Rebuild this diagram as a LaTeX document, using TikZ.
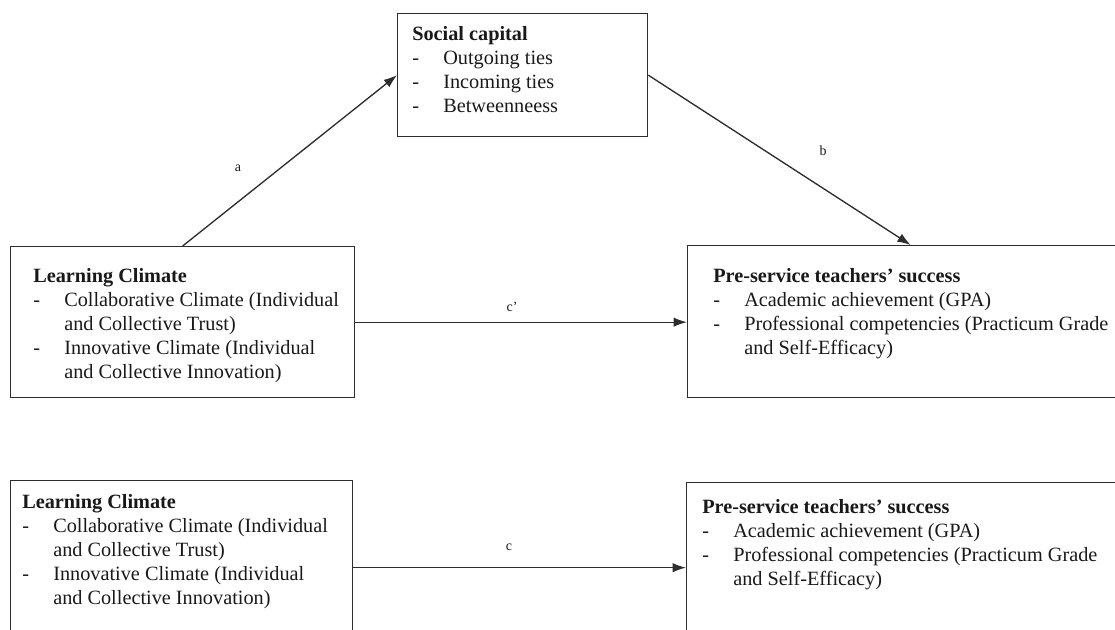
\documentclass[tikz,border=0pt]{standalone}
\usepackage{fontspec}
\setmainfont{Liberation Serif}
\usepackage{xcolor}
\usetikzlibrary{arrows.meta}

\definecolor{linegray}{RGB}{45,45,45}
\definecolor{textgray}{RGB}{25,25,25}
\newcommand{\boxfont}{\fontsize{15.2}{18}\selectfont}
\newcommand{\lblfont}{\fontsize{10.5}{12}\selectfont}
% heading plus dash list, first baseline on top
\newcommand{\boxtext}[2]{\begin{tabular}[t]{@{}p{23.25pt}@{}l@{}}\multicolumn{2}{@{}l@{}}{\textbf{#1}}\\#2\end{tabular}}

\begin{document}
\begin{tikzpicture}[x=0.75pt,y=0.75pt,yscale=-1,xscale=1,
  box/.style={draw=linegray,line width=1pt,rectangle,inner sep=0pt,anchor=north west},
  txt/.style={anchor=base west,inner sep=0pt,font=\boxfont,text=textgray},
  lbl/.style={inner sep=0pt,font=\lblfont,text=textgray},
  link/.style={draw=linegray,line width=1pt,-{Latex[length=10pt,width=7pt]}}]
\useasboundingbox (0,0) rectangle (1115,629);
\clip (0,0) rectangle (1115,629);

% Boxes
\node [box,minimum width=187.5pt,minimum height=92.25pt] (soc) at (397,13) {};
\node [box,minimum width=258pt,minimum height=113.25pt] (lc1) at (10,246) {};
\node [box,minimum width=334.5pt,minimum height=114pt] (ps1) at (687,245) {};
\node [box,minimum width=256.5pt,minimum height=130.5pt] (lc2) at (10,480) {};
\node [box,minimum width=335.25pt,minimum height=127.5pt] (ps2) at (686,482) {};

% Text Node
\node [txt] (socText) at (412,40) {\boxtext{Social capital}{- & Outgoing ties\\- & Incoming ties\\- & Betweenneess}};
% Text Node
\node [txt] (lc1Text) at (33,282) {\boxtext{Learning Climate}{- & Collaborative Climate (Individual\\ & and Collective Trust)\\- & Innovative Climate (Individual\\ & and Collective Innovation)}};
% Text Node
\node [txt] (ps1Text) at (713,282) {\boxtext{Pre-service teachers’ success}{- & Academic achievement (GPA)\\- & Professional competencies (Practicum Grade\\ & and Self-Efficacy)}};
% Text Node
\node [txt] (lc2Text) at (22,508) {\boxtext{Learning Climate}{- & Collaborative Climate (Individual\\ & and Collective Trust)\\- & Innovative Climate (Individual\\ & and Collective Innovation)}};
% Text Node
\node [txt] (ps2Text) at (702,513) {\boxtext{Pre-service teachers’ success}{- & Academic achievement (GPA)\\- & Professional competencies (Practicum Grade\\ & and Self-Efficacy)}};

% Paths
\draw [link] (lc1.north) -- (soc.west);
\draw [link] (soc.east) -- (ps1.north);
\draw [link] (lc1.east) -- (lc1.east -| ps1.west);
\draw [link] (lc2.east) -- (lc2.east -| ps2.west);

% Labels
\node [lbl] (lblA) at (238,168) {a};
\node [lbl] (lblB) at (823,151) {b};
\node [lbl] (lblCp) at (512,307) {c’};
\node [lbl] (lblC) at (509,547) {c};

\end{tikzpicture}
\end{document}
